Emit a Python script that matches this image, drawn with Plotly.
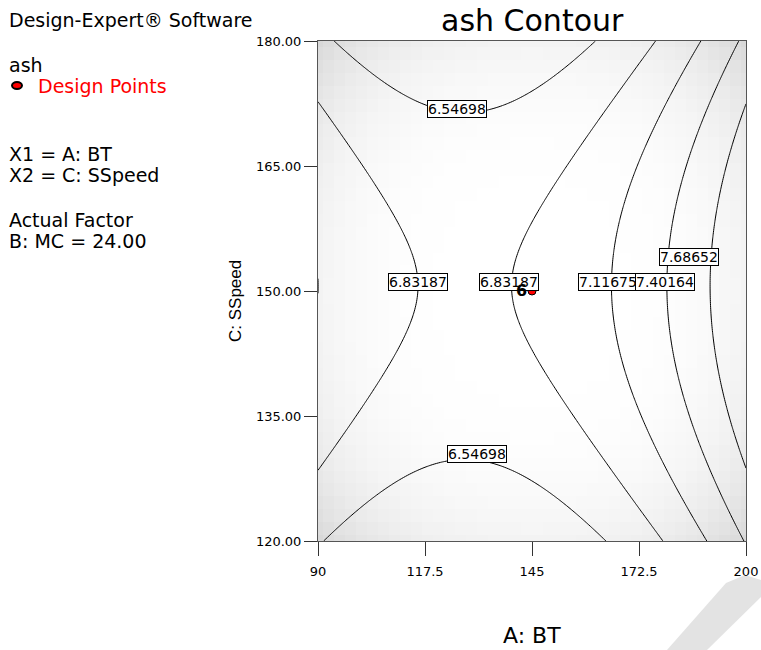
import numpy as np
import plotly.graph_objects as go

# ---- data ----
bt_range = [90, 200]          # A: BT
sspeed_range = [120, 180]     # C: SSpeed
# fitted response-surface model (coded units, B: MC = 24.00)
coef_const = 6.866
coef_A = 0.424
coef_C = 0.021
coef_AA = 0.675
coef_CC = -0.525

contour_levels = [6.54698, 6.83187, 7.11675, 7.40164, 7.68652]
label_text = ["6.54698", "6.54698", "6.83187", "6.83187", "7.11675", "7.40164", "7.68652"]
label_bt = [125.6, 130.9, 115.6, 139.1, 164.6, 179.2, 185.3]
label_sspeed = [171.8, 130.5, 151.1, 151.1, 151.1, 151.1, 154.1]

design_bt = [145]
design_sspeed = [150]
design_count = ["6"]

x_ticks = [90, 117.5, 145, 172.5, 200]
x_ticktext = ["90", "117.5", "145", "172.5", "200"]
y_ticks = [120, 135, 150, 165, 180]
y_ticktext = ["120.00", "135.00", "150.00", "165.00", "180.00"]

info_lines = ["Design-Expert® Software", "ash", "Design Points", "X1 = A: BT",
              "X2 = C: SSpeed", "Actual Factor", "B: MC = 24.00"]
info_colors = ["black", "black", "red", "black", "black", "black", "black"]
info_y_px = [20, 65, 86, 154, 175, 220, 241]
info_x_px = [8, 8, 37, 8, 8, 8, 8]

# ---- layout geometry (reference pixels) ----
Lr, Rr, Tr = 318, 15, 41
PW, PH = 761 - Lr - Rr, 500
W, H = 761, 650
B = H - Tr - PH
FONT = "DejaVu Sans"

# ---- surfaces ----
xc = (bt_range[0] + bt_range[1]) / 2
xh = (bt_range[1] - bt_range[0]) / 2
yc = (sspeed_range[0] + sspeed_range[1]) / 2
yh = (sspeed_range[1] - sspeed_range[0]) / 2

gx = np.linspace(bt_range[0], bt_range[1], 221)
gy = np.linspace(sspeed_range[0], sspeed_range[1], 241)
GX, GY = np.meshgrid(gx, gy)
A = (GX - xc) / xh
C = (GY - yc) / yh
Z = coef_const + coef_A * A + coef_C * C + coef_AA * A ** 2 + coef_CC * C ** 2

# background shading (prediction std-error look)
sx = np.linspace(bt_range[0], bt_range[1], 40)
sy = np.linspace(sspeed_range[0], sspeed_range[1], 40)
SX, SY = np.meshgrid(sx, sy)
SA = (SX - xc) / xh
SC = (SY - yc) / yh
S = 0.6 * (SA ** 4 + SC ** 4) + 0.8 * SA ** 2 * SC ** 2

fig = go.Figure()
fig.add_trace(go.Heatmap(x=sx, y=sy, z=S, zmin=0, zmax=2.0, zsmooth=False,
                         colorscale=[[0, "#ffffff"], [1, "#d8d8d8"]],
                         showscale=False, hoverinfo="skip"))
step = contour_levels[1] - contour_levels[0]
fig.add_trace(go.Contour(x=gx, y=gy, z=Z, showscale=False,
                         contours=dict(start=contour_levels[0], end=contour_levels[-1] + 1e-4,
                                       size=step, coloring="lines", showlabels=False),
                         colorscale=[[0, "black"], [1, "black"]],
                         line=dict(width=1, smoothing=1.0), hoverinfo="skip"))
fig.add_trace(go.Scatter(x=design_bt, y=design_sspeed, mode="markers",
                         marker=dict(color="red", size=8, line=dict(color="black", width=1)),
                         hoverinfo="skip"))

ann = []
for t, x, y in zip(label_text, label_bt, label_sspeed):
    ann.append(dict(x=x, y=y, xref="x", yref="y", text=t, showarrow=False,
                    font=dict(family=FONT, size=14, color="black"),
                    bgcolor="white", bordercolor="black", borderwidth=1, borderpad=0))
for t, x, y in zip(design_count, design_bt, design_sspeed):
    ann.append(dict(x=x, y=y, xref="x", yref="y", text="<b>" + t + "</b>", showarrow=False,
                    xshift=-11, yshift=1, font=dict(family=FONT, size=16, color="black")))

for t, c, ypx, xpx in zip(info_lines, info_colors, info_y_px, info_x_px):
    ann.append(dict(x=0, y=1, xref="paper", yref="paper", text=t, showarrow=False,
                    xanchor="left", yanchor="middle", xshift=xpx - Lr - 1, yshift=Tr - ypx,
                    font=dict(family=FONT, size=19, color=c)))

# title and axis titles
ann.append(dict(x=0.5, y=1, xref="paper", yref="paper", text="ash Contour", showarrow=False,
                xanchor="center", yanchor="middle", yshift=Tr - 20,
                font=dict(family=FONT, size=30, color="black")))
ann.append(dict(x=0.5, y=0, xref="paper", yref="paper", text="A: BT", showarrow=False,
                xanchor="center", yanchor="middle", yshift=-(635 - (Tr + PH)),
                font=dict(family=FONT, size=22, color="black")))
ann.append(dict(x=0, y=0.5, xref="paper", yref="paper", text="C: SSpeed", showarrow=False,
                xanchor="center", yanchor="middle", textangle=-90, xshift=235 - Lr,
                yshift=(Tr + PH / 2) - 301,
                font=dict(family="Liberation Sans", size=17, color="black")))

# legend marker for design points
shapes = [dict(type="circle", xref="paper", yref="paper", xsizemode="pixel", ysizemode="pixel",
               xanchor=0, yanchor=1, x0=17 - Lr - 5, x1=17 - Lr + 5, y0=Tr - 85.5 - 3.5,
               y1=Tr - 85.5 + 3.5, fillcolor="red", line=dict(color="black", width=2))]

# watermark fragment at bottom-right
def px(X, Y):
    return (X - Lr) / PW, (Tr + PH - Y) / PH
pts = [(726, 583), (745, 575), (761, 580), (761, 597), (707, 650), (667, 650)]
path = "M " + " L ".join("%.4f,%.4f" % px(X, Y) for X, Y in pts) + " Z"
shapes.append(dict(type="path", xref="paper", yref="paper", path=path,
                   fillcolor="#e3e3e3", line=dict(width=0), layer="below"))

fig.update_layout(
    width=W, height=H, margin=dict(l=Lr, r=Rr, t=Tr, b=B, pad=0, autoexpand=False),
    paper_bgcolor="white", plot_bgcolor="white", showlegend=False,
    annotations=ann, shapes=shapes,
    xaxis=dict(range=bt_range, tickvals=x_ticks, ticktext=x_ticktext, ticks="outside",
               ticklen=14, tickcolor="#333", showgrid=False, zeroline=False,
               showline=True, linecolor="#555", linewidth=1, mirror=True,
               ticklabelstandoff=4, automargin=False,
               tickfont=dict(family=FONT, size=13, color="black")),
    yaxis=dict(range=sspeed_range, tickvals=y_ticks, ticktext=y_ticktext, ticks="outside",
               ticklen=13, tickcolor="#333", showgrid=False, zeroline=False,
               showline=True, linecolor="#555", linewidth=1, mirror=True,
               automargin=False,
               tickfont=dict(family=FONT, size=13, color="black")),
)

fig.write_html("out.html", config={"displayModeBar": False},
               post_script="document.body.style.margin='0';"
                           "document.body.style.overflow='hidden';")
